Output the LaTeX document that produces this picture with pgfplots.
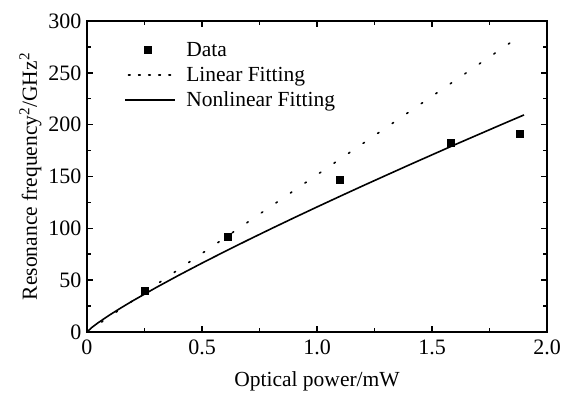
\documentclass[border=0pt]{standalone}
\usepackage{fontspec}
\setmainfont{Liberation Serif}
\usepackage{pgfplots}
\pgfplotsset{compat=1.18}
\pgfplotsset{
  marklegend/.style={legend image code/.code={\draw[##1] plot[only marks] coordinates {(22pt,0pt)};}},
  dotlegend/.style={legend image code/.code={\draw[##1, dash pattern=on 1.6pt off 8.5pt] (3pt,0pt) -- (52pt,0pt);}},
  linelegend/.style={legend image code/.code={\draw[##1] (0pt,0pt) -- (50pt,0pt);}},
}
\begin{document}
\begin{tikzpicture}
\begin{axis}[
  scale only axis,
  width=460pt, height=311pt,
  xmin=0, xmax=2, ymin=0, ymax=300,
  xtick={0,0.5,1.0,1.5,2.0},
  xticklabels={0,0.5,1.0,1.5,2.0},
  ytick={0,50,100,150,200,250,300},
  minor x tick num=1, minor y tick num=1,
  tick align=inside,
  major tick length=6pt, minor tick length=4pt,
  every tick/.style={line width=1.5pt, black},
  axis line style={line width=1.6pt},
  /pgf/number format/assume math mode=true,
  tick label style={font=\fontsize{22}{25}\selectfont},
  xticklabel style={yshift=-4pt},
  yticklabel style={xshift=-2pt},
  label style={font=\fontsize{21.5}{25}\selectfont},
  xlabel={Optical power/mW},
  ylabel={Resonance frequency\textsuperscript{2}/GHz\textsuperscript{2}},
  xlabel style={yshift=-10pt},
  legend style={draw=none, fill=none, at={(0.075,0.945)}, anchor=north west,
    font=\fontsize{21.5}{25}\selectfont, row sep=5pt,
    /tikz/every odd column/.append style={column sep=6pt}},
  legend cell align=left,
]
\addplot[only marks, mark=square*, mark size=3.5pt, black, marklegend] coordinates {
(0.25,40) (0.61,92) (1.10,147) (1.58,183) (1.88,191)
};
\addlegendentry{Data}
\addplot[black, line width=1.6pt, dash pattern=on 1.6pt off 16pt, line cap=round, dotlegend] coordinates {
(0,0) (1.86,282)
};
\addlegendentry{Linear Fitting}
\addplot[black, line width=1.6pt, linelegend] coordinates {
(0,0) (0.02,4.17) (0.05,9.18) (0.1,16.64) (0.15,23.59) (0.2,30.21) (0.3,42.82)
(0.4,54.85) (0.5,66.45) (0.6,77.73) (0.7,88.74) (0.8,99.54) (0.9,110.16)
(1.0,120.6) (1.1,130.9) (1.2,141.08) (1.3,151.1) (1.4,161.07) (1.5,170.9)
(1.6,180.7) (1.7,190.3) (1.8,199.9) (1.9,209.4)
};
\addlegendentry{Nonlinear Fitting}
\end{axis}
\pgfresetboundingbox
\path (current axis.south west) +(-87pt,-63pt) (current axis.north east) +(17pt,21pt);
\end{tikzpicture}
\end{document}
